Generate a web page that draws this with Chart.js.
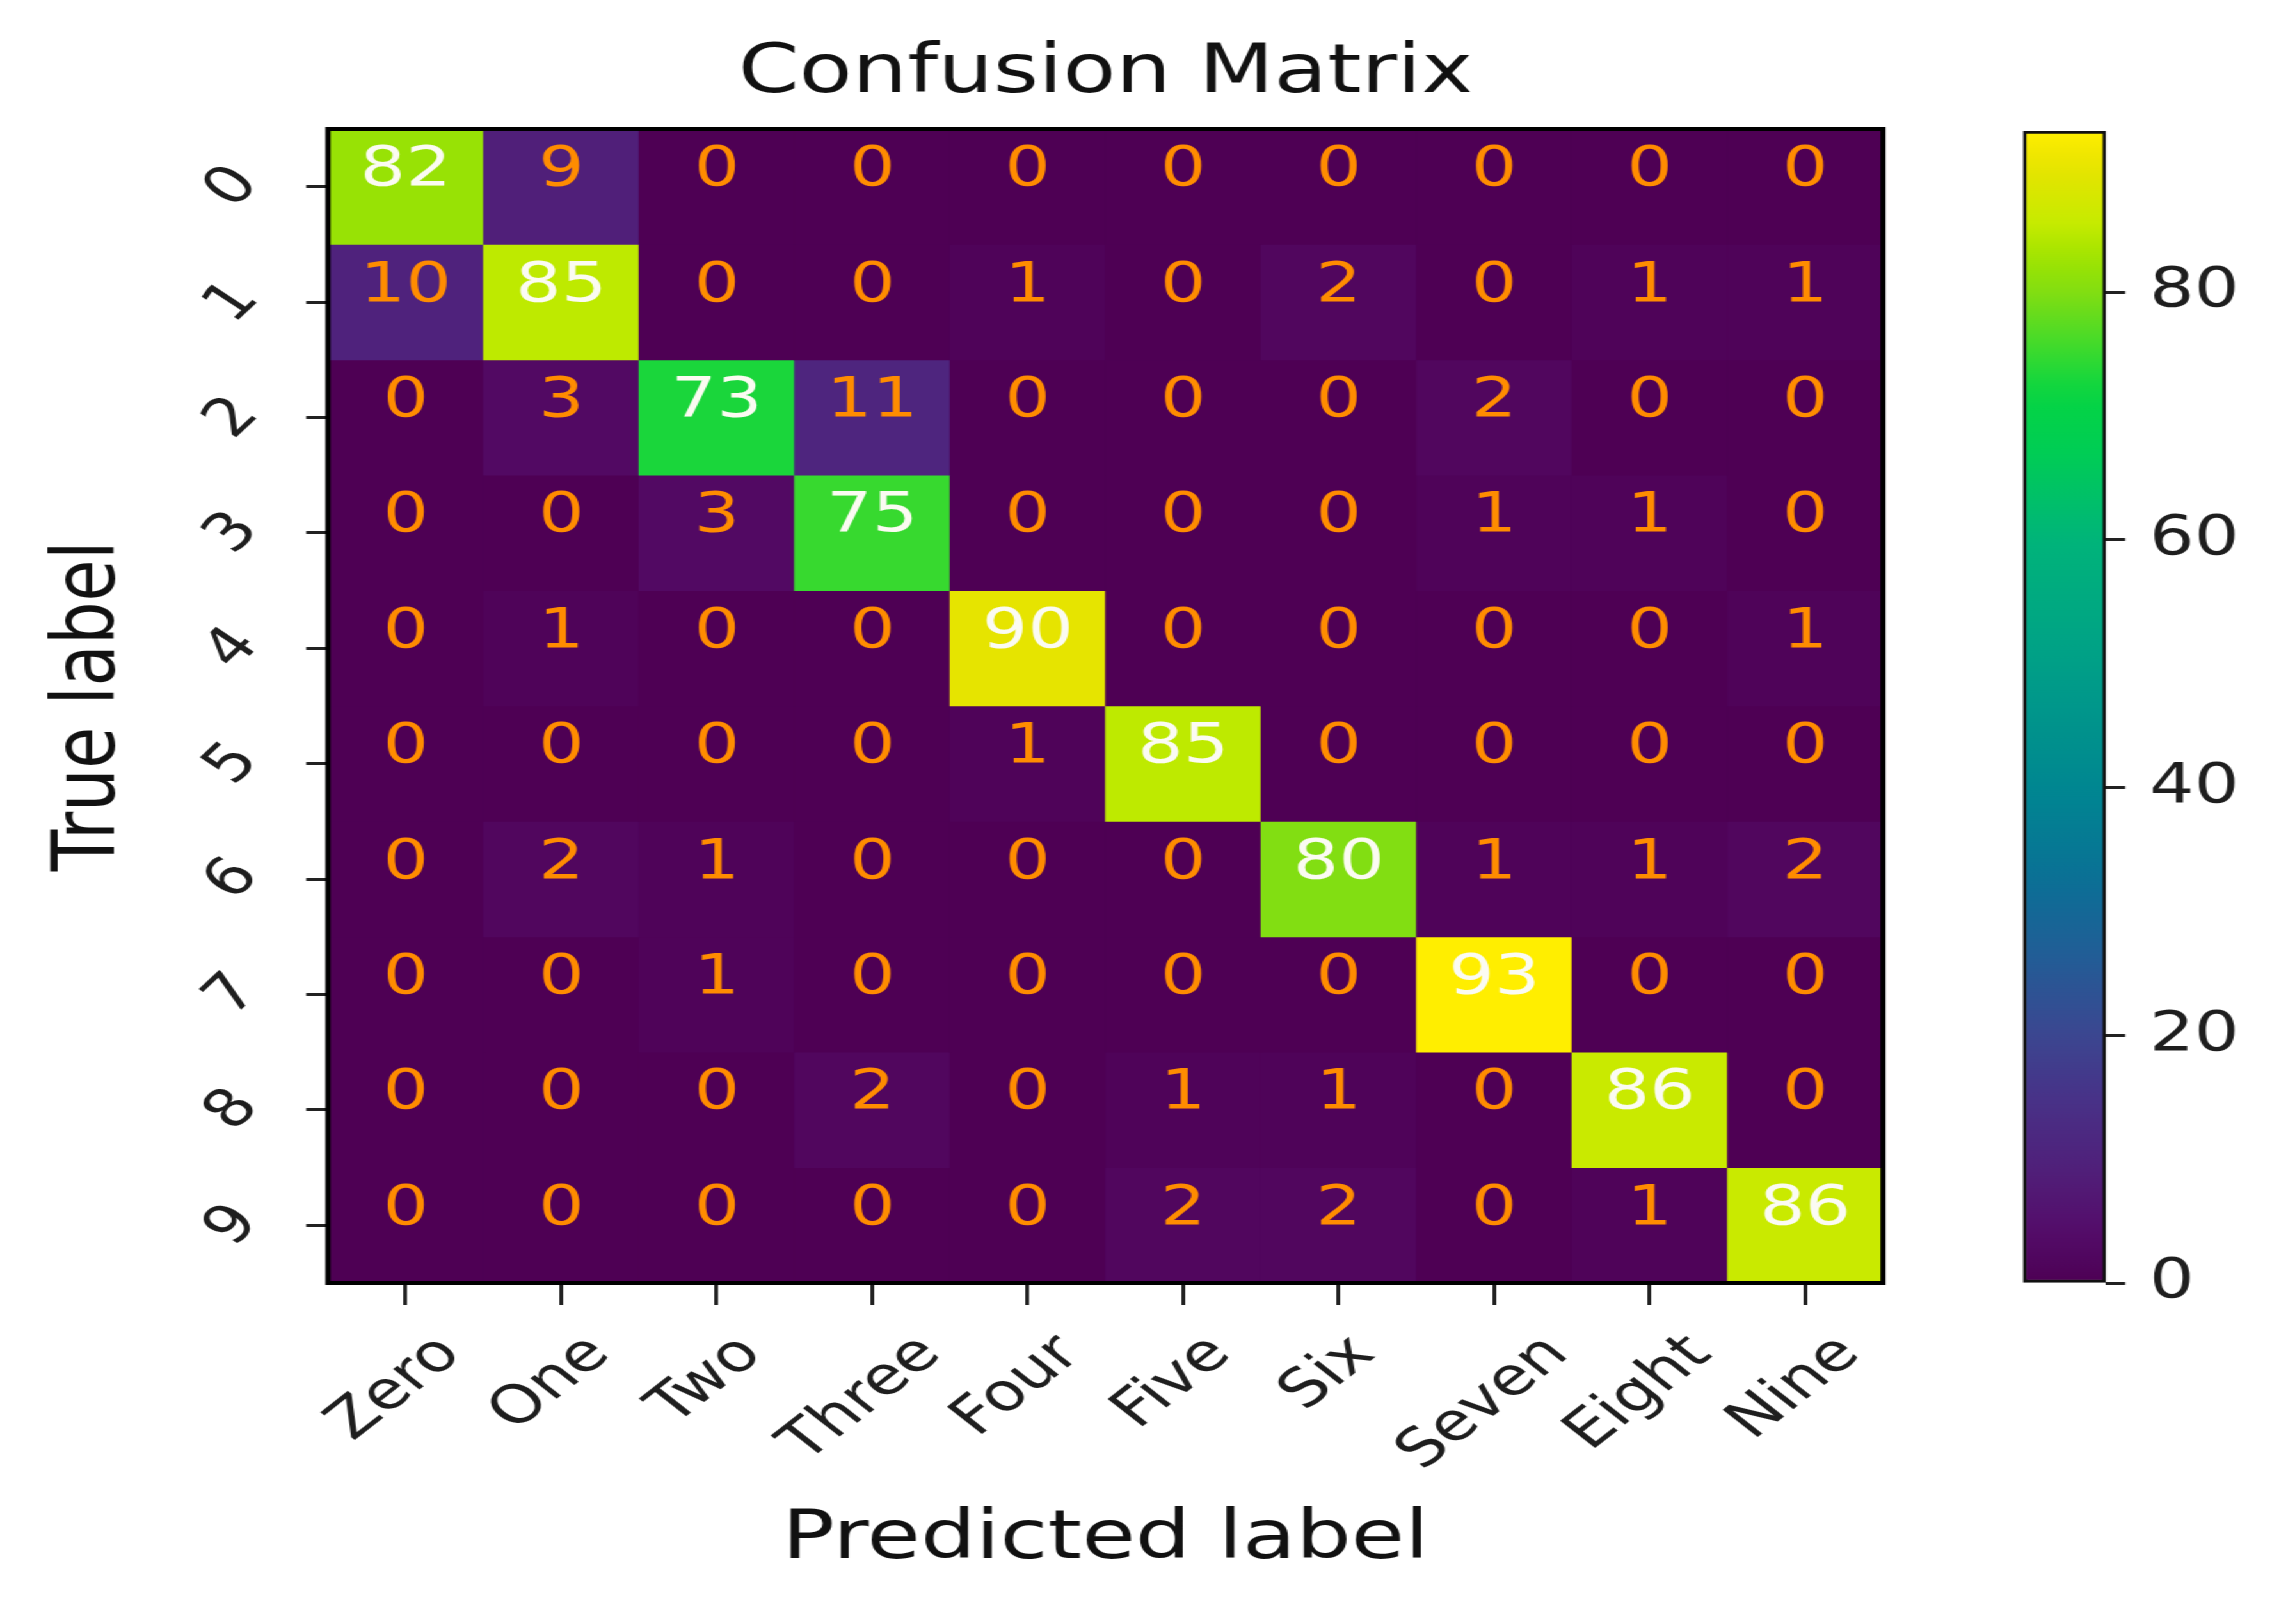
<!DOCTYPE html>
<html>
<head>
<meta charset="utf-8">
<title>Confusion Matrix</title>
<script src="https://cdn.jsdelivr.net/npm/chart.js@4.4.0/dist/chart.umd.min.js"></script>
<style>
  html, body { margin: 0; padding: 0; background: #ffffff; overflow: hidden; }
  #stage { position: absolute; left: 0; top: 0; transform-origin: 0 0; }
  #main, #cbar { position: absolute; top: 0; }
</style>
</head>
<body>
<div id="stage"><canvas id="main"></canvas><canvas id="cbar"></canvas></div>
<script>
// ---------------- data ----------------
const predictedLabels = ['Zero', 'One', 'Two', 'Three', 'Four', 'Five', 'Six', 'Seven', 'Eight', 'Nine'];
const trueLabels = ['0', '1', '2', '3', '4', '5', '6', '7', '8', '9'];
const confusion = [
  [82,  9,  0,  0,  0,  0,  0,  0,  0,  0],
  [10, 85,  0,  0,  1,  0,  2,  0,  1,  1],
  [ 0,  3, 73, 11,  0,  0,  0,  2,  0,  0],
  [ 0,  0,  3, 75,  0,  0,  0,  1,  1,  0],
  [ 0,  1,  0,  0, 90,  0,  0,  0,  0,  1],
  [ 0,  0,  0,  0,  1, 85,  0,  0,  0,  0],
  [ 0,  2,  1,  0,  0,  0, 80,  1,  1,  2],
  [ 0,  0,  1,  0,  0,  0,  0, 93,  0,  0],
  [ 0,  0,  0,  2,  0,  1,  1,  0, 86,  0],
  [ 0,  0,  0,  0,  0,  2,  2,  0,  1, 86]
];
const colorbarTicks = [0, 20, 40, 60, 80];
const chartTitle = 'Confusion Matrix';
const xAxisTitle = 'Predicted label';
const yAxisTitle = 'True label';

const VMAX = Math.max(...confusion.flat());

// ---------------- styling / layout ----------------
const SX = 1.28;                 // horizontal stretch of the whole figure
const W_FULL = 2277, H = 1605;
const W = W_FULL / SX;
const FONT = 'DejaVu Sans';
const TEXT = '#1e1e1e';
const PLOT = { left: 328 / SX, right: 1883 / SX, top: 129, bottom: 1283 };
const CB = { left: 2023 / SX, right: 2106 / SX, top: 131, bottom: 1283 };
const CB_CANVAS_LEFT = 1500;
const CB_W = W - CB_CANVAS_LEFT;
const CELL_FONT = 56, TICK_FONT = 53, CB_FONT = 55, TITLE_FONT = 68, AXIS_TITLE_FONT = 68;
const CELL_TEXT_DY = -16;
const XL_TOP = 1327, XL_DX = -8;

const CMAP = [
  [0.00,  78,   0,  84],
  [0.05,  84,  14, 108],
  [0.10,  80,  32, 122],
  [0.16,  72,  50, 136],
  [0.22,  58,  72, 145],
  [0.28,  35,  92, 150],
  [0.35,  10, 112, 150],
  [0.43,   0, 135, 145],
  [0.54,   0, 160, 135],
  [0.645,  0, 180, 122],
  [0.72,   0, 205,  85],
  [0.77,   5, 212,  68],
  [0.81,  60, 218,  45],
  [0.86, 130, 222,  18],
  [0.89, 160, 228,   0],
  [0.92, 198, 235,   0],
  [0.97, 232, 228,   0],
  [1.00, 255, 238,   0]
];
function cmap(t) {
  t = Math.max(0, Math.min(1, t));
  for (let i = 1; i < CMAP.length; i++) {
    const a = CMAP[i - 1], b = CMAP[i];
    if (t <= b[0]) {
      const f = (t - a[0]) / (b[0] - a[0]);
      const c = [1, 2, 3].map(k => Math.round(a[k] + (b[k] - a[k]) * f));
      return `rgb(${c[0]},${c[1]},${c[2]})`;
    }
  }
  const l = CMAP[CMAP.length - 1];
  return `rgb(${l[1]},${l[2]},${l[3]})`;
}

const stage = document.getElementById('stage');
stage.style.width = W + 'px';
stage.style.height = H + 'px';
stage.style.transform = `scaleX(${SX})`;
const mainCanvas = document.getElementById('main');
mainCanvas.width = Math.round(W); mainCanvas.height = H;
mainCanvas.style.left = '0px';
const cbCanvas = document.getElementById('cbar');
cbCanvas.width = Math.round(CB_W); cbCanvas.height = H;
cbCanvas.style.left = CB_CANVAS_LEFT + 'px';

// ---------------- plugins ----------------
const matrixBackdrop = {
  id: 'matrixBackdrop',
  beforeDatasetsDraw(chart) {
    const { ctx, chartArea: a } = chart;
    ctx.save();
    ctx.fillStyle = cmap(0);
    ctx.fillRect(a.left, a.top, a.width, a.height);
    ctx.restore();
  }
};
const cellText = {
  id: 'cellText',
  afterDatasetsDraw(chart) {
    const { ctx } = chart;
    const ys = chart.scales.y;
    ctx.save();
    ctx.font = `${CELL_FONT}px "${FONT}"`;
    ctx.textAlign = 'center';
    ctx.textBaseline = 'middle';
    chart.data.datasets.forEach((ds, r) => {
      chart.getDatasetMeta(r).data.forEach((bar, c) => {
        const v = confusion[r][c];
        const x = bar.getProps(['x'], true).x;
        const y = ys.getPixelForValue(r) + CELL_TEXT_DY;
        ctx.fillStyle = v > VMAX / 2 ? '#fbfbf2' : '#ff8c00';
        ctx.fillText(String(v), x, y);
      });
    });
    ctx.restore();
  }
};
const frame = {
  id: 'frame',
  afterDatasetsDraw(chart) {
    const { ctx, chartArea: a } = chart;
    ctx.save();
    ctx.strokeStyle = '#000';
    ctx.lineWidth = 4;
    ctx.strokeRect(a.left, a.top, a.width, a.height);
    ctx.restore();
  }
};
const xTickLabels = {
  id: 'xTickLabels',
  afterDraw(chart) {
    const { ctx } = chart;
    const xs = chart.scales.x;
    ctx.save();
    ctx.font = `${TICK_FONT}px "${FONT}"`;
    ctx.fillStyle = TEXT;
    ctx.textAlign = 'center';
    ctx.textBaseline = 'middle';
    predictedLabels.forEach((lab, i) => {
      const w = ctx.measureText(lab).width;
      const cx = xs.getPixelForValue(i) + XL_DX;
      const cy = XL_TOP + (w + TICK_FONT) * Math.SQRT1_2 / 2;
      ctx.save();
      ctx.translate(cx, cy);
      ctx.rotate(-Math.PI / 4);
      ctx.fillText(lab, 0, 0);
      ctx.restore();
    });
    ctx.restore();
  }
};

// ---------------- main heatmap ----------------
const datasets = trueLabels.map((lab, r) => ({
  label: lab,
  data: predictedLabels.map(() => [r - 0.5, r + 0.5]),
  backgroundColor: confusion[r].map(v => cmap(v / VMAX)),
  borderWidth: 0,
  barPercentage: 1,
  categoryPercentage: 1,
  grouped: false
}));

const titleLH = TITLE_FONT * 1.2;
const titlePadTop = 74 - titleLH / 2;

new Chart(mainCanvas, {
  type: 'bar',
  data: { labels: predictedLabels, datasets },
  options: {
    responsive: false,
    animation: false,
    events: [],
    layout: { padding: { left: 0, right: Math.round(W) - PLOT.right, top: 0, bottom: 0 } },
    plugins: {
      legend: { display: false },
      tooltip: { enabled: false },
      title: {
        display: true, text: chartTitle, fullSize: false, color: '#111',
        font: { family: FONT, size: TITLE_FONT, weight: 'normal' },
        padding: { top: titlePadTop, bottom: PLOT.top - titlePadTop - titleLH }
      }
    },
    scales: {
      x: {
        type: 'category',
        offset: true,
        grid: { display: true, offset: false, drawOnChartArea: false, drawTicks: true, tickLength: 22, tickWidth: 3, tickColor: '#222' },
        border: { display: false },
        ticks: { display: false },
        title: {
          display: true, text: xAxisTitle, color: '#111',
          font: { family: FONT, size: AXIS_TITLE_FONT, weight: 'normal' },
          padding: { top: 0, bottom: 1605 - 1540 - AXIS_TITLE_FONT * 0.6 }
        },
        afterFit: s => { s.height = H - PLOT.bottom; }
      },
      y: {
        type: 'linear',
        reverse: true,
        min: -0.5,
        max: trueLabels.length - 0.5,
        afterBuildTicks: s => { s.ticks = trueLabels.map((_, i) => ({ value: i })); },
        grid: { display: true, drawOnChartArea: false, drawTicks: true, tickLength: 17, tickWidth: 3, tickColor: '#222' },
        border: { display: false },
        ticks: {
          autoSkip: false,
          callback: v => trueLabels[v],
          minRotation: 50, maxRotation: 50,
          padding: 46,
          labelOffset: -12,
          color: TEXT,
          font: { family: FONT, size: TICK_FONT }
        },
        title: {
          display: true, text: yAxisTitle, color: '#111',
          font: { family: FONT, size: AXIS_TITLE_FONT, weight: 'normal' },
          padding: { top: 71 - AXIS_TITLE_FONT * 0.6, bottom: 0 }
        },
        afterFit: s => { s.width = PLOT.left; }
      }
    }
  },
  plugins: [matrixBackdrop, cellText, frame, xTickLabels]
});

// ---------------- colorbar ----------------
function colorbarGradient(c) {
  const ch = c.chart;
  const ys = ch.scales && ch.scales.y;
  if (!ys || !ch.chartArea) return cmap(0);
  const y0 = ys.getPixelForValue(0), y1 = ys.getPixelForValue(VMAX);
  const g = ch.ctx.createLinearGradient(0, y0, 0, y1);
  for (let i = 0; i <= 50; i++) { const t = i / 50; g.addColorStop(t, cmap(t)); }
  return g;
}

new Chart(cbCanvas, {
  type: 'bar',
  data: {
    labels: [''],
    datasets: [{
      data: [[0, VMAX]],
      backgroundColor: colorbarGradient,
      borderColor: '#111',
      borderWidth: 3,
      borderSkipped: false,
      barPercentage: 1,
      categoryPercentage: 1
    }]
  },
  options: {
    responsive: false,
    animation: false,
    events: [],
    layout: { padding: { left: CB.left - CB_CANVAS_LEFT, right: 0, top: CB.top, bottom: H - CB.bottom } },
    plugins: { legend: { display: false }, tooltip: { enabled: false }, title: { display: false } },
    scales: {
      x: { display: false },
      y: {
        position: 'right',
        min: 0,
        max: VMAX,
        afterBuildTicks: s => { s.ticks = colorbarTicks.map(v => ({ value: v })); },
        afterFit: s => { s.width = Math.round(CB_W) - (CB.right - CB_CANVAS_LEFT); },
        grid: { display: true, drawOnChartArea: false, drawTicks: true, tickLength: 15, tickWidth: 3, tickColor: '#222' },
        border: { display: false },
        ticks: { autoSkip: false, padding: 19, color: TEXT, font: { family: FONT, size: CB_FONT } }
      }
    }
  }
});
</script>
</body>
</html>
